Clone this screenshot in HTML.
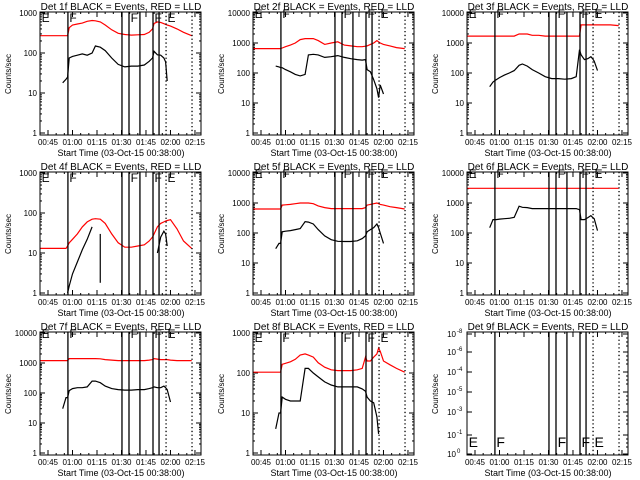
<!DOCTYPE html>
<html><head><meta charset="utf-8"><style>
html,body{margin:0;padding:0;background:#fff;}
svg{display:block;font-family:"Liberation Sans",sans-serif;}
</style></head><body>
<svg id="c" width="640" height="480" xmlns="http://www.w3.org/2000/svg"></svg>
<script>
const times = [40,45,50,54,56,57,58,60,63,66,69,72,74,77,80,84,88,92,96,100,104,107,109,110,112,114,116,117,118,120,124,128,133];
const N = null;
const p1Events = [N,N,N,18,22,25,75,82,88,95,88,100,150,140,115,75,52,45,47,47,50,62,75,110,90,88,75,60,20,N,N,N,N];
const p1Lld = [270,270,270,270,270,270,430,500,530,560,620,650,640,600,500,380,310,290,280,285,290,330,400,550,600,580,540,520,500,470,400,330,270];
const p2Events = [N,N,N,170,160,150,150,130,110,90,80,90,400,420,400,330,350,380,330,300,280,270,280,130,110,60,30,15,40,20,N,N,N];
const p2Lld = [650,650,650,650,650,650,680,750,850,1000,1300,1400,1400,1400,1200,900,1000,1100,850,800,750,750,780,800,900,1000,1200,1100,1000,900,800,700,650];
const p3Events = [N,N,N,35,50,55,60,70,85,100,120,180,200,170,130,100,75,65,65,62,65,75,600,400,280,300,350,300,250,120,N,N,N];
const p3Lld = [1700,1700,1700,1700,1700,1700,1700,1700,1700,1700,1700,2000,2000,2000,1800,1800,1700,1700,1700,1700,1700,1700,1700,4000,4000,4000,4000,4000,4000,4000,4000,4000,3800];
const p4Events = [N,N,N,N,N,1,1.5,3,6,12,22,45,N,N,N,N,N,N,N,N,N,N,N,N,10,25,35,30,15,N,N,N,N];
const p4Lld = [13,13,13,13,13,15,18,22,30,45,60,70,72,70,55,30,18,14,14,15,16,20,25,30,45,55,60,63,65,68,40,20,13];
const p4SpikeTime = [77];
const p4SpikeLow = [1.8];
const p4SpikeHigh = [30];
const p5Events = [N,N,N,30,45,45,110,115,120,130,140,240,230,200,130,80,60,53,52,52,55,65,80,110,130,150,200,150,100,45,N,N,N];
const p5Lld = [630,630,630,630,630,630,850,870,900,950,1000,1000,1000,950,800,700,650,650,650,650,650,650,700,850,900,950,1000,950,900,850,750,700,630];
const p6Events = [N,N,N,150,280,280,280,290,300,310,330,780,720,700,650,650,650,650,650,650,650,650,600,280,280,320,380,330,300,120,N,N,N];
const p6Lld = [3100,3100,3100,3100,3100,3100,3100,3100,3100,3100,3100,3100,3100,3100,3100,3100,3100,3100,3100,3100,3100,3100,3100,3100,3100,3100,3100,3100,3100,3100,3100,3100,3100];
const p7Events = [N,N,N,30,70,70,120,140,150,150,160,250,250,220,170,140,130,125,125,130,130,140,150,160,150,150,170,150,130,50,N,N,N];
const p7Lld = [1200,1200,1200,1200,1200,1200,1400,1400,1400,1400,1400,1400,1400,1380,1300,1250,1200,1200,1200,1200,1200,1250,1300,1400,1350,1300,1300,1300,1300,1250,1200,1200,1200];
const p8Events = [N,N,N,4,10,10,25,22,20,20,20,130,130,100,80,60,50,45,45,45,45,40,35,25,20,18,8,3,N,N,N,N,N];
const p8Lld = [105,105,105,105,105,105,165,175,190,220,280,300,280,250,180,140,120,115,115,115,120,130,250,200,200,250,300,420,350,200,160,130,105];
const markerSolid = [57.2,90.3,94.6,101.3,109.3,113];
const markerDotted = [117.3,133.2];
const letterTimes = [40.5,57.5,95,109.6,117.6];
const letterText = ["E","F","F","F","E"];
const xTickMinutes = [45,60,75,90,105,120,135];
const xTickLabels = ["00:45","01:00","01:15","01:30","01:45","02:00","02:15"];

const svg = document.getElementById('c');
const NS = 'http://www.w3.org/2000/svg';
function mk(tag, attrs, parent){const e=document.createElementNS(NS,tag);for(const k in attrs)e.setAttribute(k,attrs[k]);(parent||svg).appendChild(e);return e;}

const panels = [
 {n:1,dec:3,ev:p1Events,lld:p1Lld},{n:2,dec:4,ev:p2Events,lld:p2Lld},{n:3,dec:4,ev:p3Events,lld:p3Lld},
 {n:4,dec:3,ev:p4Events,lld:p4Lld},{n:5,dec:4,ev:p5Events,lld:p5Lld},{n:6,dec:4,ev:p6Events,lld:p6Lld},
 {n:7,dec:4,ev:p7Events,lld:p7Lld},{n:8,dec:3,ev:p8Events,lld:p8Lld},{n:9,dec:0,ev:null,lld:null}];

panels.forEach((p,i)=>{
  const ox=[0,213,427][i%3], oy=[0,160,320][Math.floor(i/3)];
  const g=mk('g',{});
  
  
  const L=ox+40,R=ox+201,T=oy+12,B=oy+135;
  const xS=t=>ox+48+(t-45)*1.633;
  const yS=v=>oy+133-Math.log10(v)*(120/p.dec);
  // title
  const tt=mk('text',{x:ox+121,y:oy+10,'font-size':10,'text-anchor':'middle'},g);
  tt.textContent='Det '+p.n+'f BLACK = Events, RED = LLD';
  
  
  // y title
  const yt=mk('text',{x:ox+11,y:oy+74,'font-size':8,'text-anchor':'middle',transform:'rotate(-90 '+(ox+11)+' '+(oy+74)+')'},g);
  yt.textContent='Counts/sec';
  
  
  // x title
  const xt=mk('text',{x:ox+121,y:oy+156,'font-size':9,'text-anchor':'middle'},g);
  xt.textContent='Start Time (03-Oct-15 00:38:00)';
  
  
  // x ticks
  for(let m=40;m<=137;m+=5){const x=xS(m);if(x<L||x>R)continue;const len=(m%15===0)?5:2;
    mk('line',{x1:x,y1:B,x2:x,y2:B-len,stroke:'#000','stroke-width':1},g);
    mk('line',{x1:x,y1:T,x2:x,y2:T+len,stroke:'#000','stroke-width':1},g);}
  xTickMinutes.forEach((m,k)=>{const x=xS(m);if(x>R+3)return;
    const tl=mk('text',{x:x,y:oy+145,'font-size':8,'text-anchor':'middle'},g);tl.textContent=xTickLabels[k];
    
    });
  // y ticks
  if(p.dec>0){
    for(let d=0;d<=p.dec;d++){const y=yS(Math.pow(10,d));
      mk('line',{x1:L,y1:y,x2:L+5,y2:y,stroke:'#000'},g);mk('line',{x1:R,y1:y,x2:R-5,y2:y,stroke:'#000'},g);
      const yl=mk('text',{x:ox+37,y:y+3,'font-size':8,'text-anchor':'end'},g);yl.textContent=String(Math.pow(10,d));
      
      
      if(d<p.dec)for(let k=2;k<=9;k++){const yy=yS(k*Math.pow(10,d));
        mk('line',{x1:L,y1:yy,x2:L+2,y2:yy,stroke:'#000'},g);mk('line',{x1:R,y1:yy,x2:R-2,y2:yy,stroke:'#000'},g);}}
  } else {
    const ys=[14,32,52,72,92,115,134], ex=['-8','-6','-4','-5','-3','-1','0'];
    ys.forEach((yy,k)=>{const y=oy+yy;
      mk('line',{x1:L,y1:y,x2:L+5,y2:y,stroke:'#000'},g);mk('line',{x1:R,y1:y,x2:R-5,y2:y,stroke:'#000'},g);
      for(let q=1;q<4;q++){const y2=y+q*4;if(y2<B){mk('line',{x1:R,y1:y2,x2:R-2,y2:y2,stroke:'#000'},g);}}
      const tx=mk('text',{x:ox+29,y:y+3,'font-size':8,'text-anchor':'end'},g);tx.textContent='10';
      
      
      const sp=mk('text',{x:ox+30,y:y-1,'font-size':6},g);sp.textContent=ex[k];});
  }
  // series
  function drawSeries(vals,color,name){
    let segs=[],cur=[];
    times.forEach((t,k)=>{const v=vals[k];if(v==null){if(cur.length)segs.push(cur);cur=[];}else cur.push(xS(t).toFixed(1)+','+yS(v).toFixed(1));});
    if(cur.length)segs.push(cur);
    segs.forEach(s=>{const pl=mk('polyline',{points:s.join(' '),fill:'none',stroke:color,'stroke-width':1.2},g);
      
      });
  }
  if(p.lld)drawSeries(p.lld,'#f00','lld-line');
  if(p.ev)drawSeries(p.ev,'#000','events-line');
  if(p.n===4){p4SpikeTime.forEach((t,k)=>{const sl=mk('line',{x1:xS(t),y1:yS(p4SpikeLow[k]),x2:xS(t),y2:yS(p4SpikeHigh[k]),stroke:'#000','stroke-width':1.2},g);
    
    });}
  // markers
  markerSolid.forEach(t=>{const ml=mk('line',{x1:xS(t),y1:T,x2:xS(t),y2:B,stroke:'#000','stroke-width':1.3},g);
    
    });
  markerDotted.forEach(t=>{const ml=mk('line',{x1:xS(t),y1:T,x2:xS(t),y2:B,stroke:'#000','stroke-width':1.3,'stroke-dasharray':'1.3,2.5'},g);
    
    });
  letterTimes.forEach((t,k)=>{const ly=p.dec===0?oy+127:(p.dec===3?oy+22:oy+18);
    const lt=mk('text',{x:xS(t)+1,y:ly,'font-size':p.dec===0?14:12},g);lt.textContent=letterText[k];
    
    });
  // frame
  const fr=mk('rect',{x:L,y:T,width:R-L,height:B-T,fill:'none',stroke:'#000','stroke-width':1},g);
  
  
});
</script>
</body></html>
